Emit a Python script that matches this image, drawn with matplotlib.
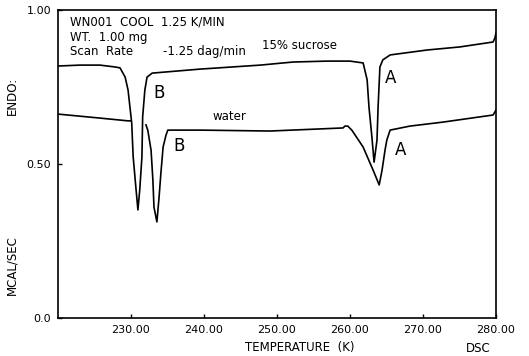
import numpy as np
import matplotlib
matplotlib.use('Agg')
import matplotlib.pyplot as plt

# 15% sucrose trace (temperature K, mcal/sec)
suc_t = [220.0, 223.0, 225.75, 227.8, 228.5, 229.2, 229.6, 230.1, 230.3, 230.7, 230.95,
         231.2, 231.5, 231.6, 231.9, 232.2, 232.9, 239.45, 247.7, 252.2, 256.85, 260.0,
         261.8, 262.35, 262.6, 263.0, 263.3, 263.7, 263.85, 264.1, 264.5, 265.5,
         270.55, 275.05, 279.6, 279.85, 280.0]
suc_v = [0.818, 0.821, 0.821, 0.815, 0.812, 0.782, 0.740, 0.633, 0.523, 0.416, 0.351,
         0.416, 0.523, 0.653, 0.740, 0.782, 0.795, 0.808, 0.821, 0.831, 0.834, 0.834,
         0.828, 0.773, 0.685, 0.588, 0.506, 0.578, 0.685, 0.815, 0.838, 0.854,
         0.870, 0.880, 0.896, 0.909, 0.925]

# water trace (nan = hidden behind sucrose peak)
wat_t = [220.0, 225.75, 229.6, 229.9, np.nan, 232.05, 232.3, 232.75, 233.0, 233.15, 233.55,
         233.85, 234.1, 234.4, 234.8, 235.05, 239.45, 249.05, 259.05, 259.3, 259.7,
         260.25, 261.8, 263.15, 264.0, 264.4, 264.8, 265.05, 265.5, 268.2, 272.75,
         279.6, 280.0]
wat_v = [0.662, 0.649, 0.640, 0.640, np.nan, 0.627, 0.610, 0.545, 0.448, 0.360, 0.312,
         0.393, 0.471, 0.555, 0.594, 0.610, 0.610, 0.607, 0.617, 0.623, 0.623,
         0.610, 0.555, 0.481, 0.432, 0.481, 0.545, 0.578, 0.610, 0.623, 0.636,
         0.659, 0.675]

xticks = [230, 240, 250, 260, 270, 280]
xticklabels = ['230.00', '240.00', '250.00', '260.00', '270.00', '280.00']
yticks = [0.0, 0.5, 1.0]
yticklabels = ['0.0', '0.50', '1.00']

plt.rcParams['font.family'] = 'DejaVu Sans'

fig = plt.figure(figsize=(5.29, 3.56), dpi=100)
ax = fig.add_axes([0.1096, 0.1067, 0.828, 0.8653])

ax.plot(suc_t, suc_v, color='black', lw=1.2)
ax.plot(wat_t, wat_v, color='black', lw=1.2)

ax.set_xlim(220, 280)
ax.set_ylim(0, 1.0)
ax.set_xticks(xticks)
ax.set_xticklabels(xticklabels, fontsize=8)
ax.set_yticks(yticks)
ax.set_yticklabels(yticklabels, fontsize=8)
ax.tick_params(direction='in', length=3, width=1, pad=5)
for s in ax.spines.values():
    s.set_linewidth(1.2)

# header
ax.text(221.6, 0.961, 'WN001  COOL  1.25 K/MIN', fontsize=8.5, va='center')
ax.text(221.6, 0.911, 'WT.  1.00 mg', fontsize=8.5, va='center')
ax.text(221.6, 0.864, 'Scan  Rate', fontsize=8.5, va='center')
ax.text(234.4, 0.864, '-1.25 dag/min', fontsize=8.5, va='center')

ax.text(247.95, 0.886, '15% sucrose', fontsize=8.5, va='center')
ax.text(241.2, 0.653, 'water', fontsize=8.5, va='center')
ax.text(233.0, 0.73, 'B', fontsize=12, va='center')
ax.text(235.75, 0.558, 'B', fontsize=12, va='center')
ax.text(264.8, 0.779, 'A', fontsize=12, va='center')
ax.text(266.2, 0.545, 'A', fontsize=12, va='center')

fig.text(12 / 529, 1 - 96 / 356, 'ENDO:', rotation=90, fontsize=8.5, ha='center', va='center')
fig.text(12 / 529, 1 - 265 / 356, 'MCAL/SEC', rotation=90, fontsize=8.5, ha='center', va='center')
fig.text(300 / 529, 1 - 348 / 356, 'TEMPERATURE  (K)', fontsize=8.5, ha='center', va='center')
fig.text(478 / 529, 1 - 348 / 356, 'DSC', fontsize=8.5, ha='center', va='center')

fig.savefig('out.png', dpi=100)
